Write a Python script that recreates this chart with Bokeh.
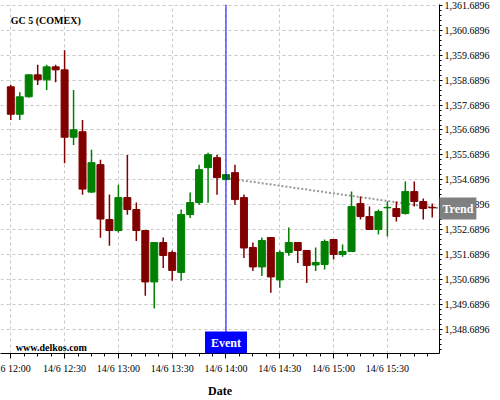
from bokeh.plotting import figure
from bokeh.models import ColumnDataSource, FixedTicker, NumeralTickFormatter, Span, Label, Range1d
from bokeh.embed import file_html
from bokeh.resources import INLINE

# ---- data (5-minute candles, 14/6) ----
times = ["12:00", "12:05", "12:10", "12:15", "12:20", "12:25", "12:30", "12:35", "12:40", "12:45",
         "12:50", "12:55", "13:00", "13:05", "13:10", "13:15", "13:20", "13:25", "13:30", "13:35",
         "13:40", "13:45", "13:50", "13:55", "14:00", "14:05", "14:10", "14:15", "14:20", "14:25",
         "14:30", "14:35", "14:40", "14:45", "14:50", "14:55", "15:00", "15:05", "15:10", "15:15",
         "15:20", "15:25", "15:30", "15:35", "15:40", "15:45", "15:50", "15:55"]
opens = [1358.42, 1357.32, 1358.02, 1358.90, 1358.70, 1359.22, 1359.10, 1356.40, 1356.62, 1354.20,
         1355.30, 1353.10, 1352.66, 1353.98, 1353.50, 1352.66, 1350.60, 1352.18, 1351.78, 1350.98,
         1353.30, 1353.78, 1355.18, 1355.58, 1354.70, 1354.98, 1353.98, 1351.98, 1351.20, 1352.38,
         1350.68, 1351.78, 1352.18, 1351.86, 1351.28, 1351.30, 1352.30, 1351.70, 1351.82, 1353.74,
         1353.22, 1352.70, 1353.57, 1353.54, 1353.34, 1354.22, 1353.82, 1353.59]
highs = [1358.50, 1358.20, 1358.92, 1359.30, 1359.30, 1359.30, 1359.89, 1358.29, 1357.09, 1355.90,
         1355.50, 1354.10, 1354.49, 1355.69, 1353.78, 1352.66, 1352.18, 1352.38, 1351.86, 1353.50,
         1354.18, 1355.30, 1355.78, 1355.70, 1354.90, 1355.30, 1354.10, 1352.18, 1352.38, 1352.38,
         1351.86, 1352.78, 1352.18, 1351.86, 1351.98, 1352.30, 1352.30, 1352.10, 1354.22, 1354.02,
         1353.62, 1353.50, 1353.82, 1353.82, 1354.62, 1354.62, 1353.94, 1353.74]
lows = [1357.09, 1357.09, 1357.99, 1358.49, 1358.29, 1358.60, 1355.36, 1356.09, 1354.09, 1354.16,
        1352.37, 1352.05, 1352.58, 1353.29, 1352.24, 1350.04, 1349.53, 1351.16, 1350.65, 1350.65,
        1353.16, 1353.69, 1353.77, 1354.09, 1354.70, 1353.69, 1351.56, 1351.04, 1350.84, 1350.17,
        1350.37, 1351.65, 1351.36, 1350.56, 1351.04, 1351.10, 1351.50, 1351.61, 1351.80, 1353.10,
        1352.70, 1352.50, 1352.42, 1353.02, 1353.30, 1353.62, 1353.10, 1353.18]
closes = [1357.32, 1358.02, 1358.90, 1358.70, 1359.22, 1359.10, 1356.40, 1356.70, 1354.32, 1355.38,
          1353.12, 1352.66, 1353.98, 1353.50, 1352.66, 1350.60, 1352.18, 1351.66, 1351.06, 1353.30,
          1353.78, 1355.10, 1355.70, 1354.78, 1354.90, 1353.90, 1351.96, 1351.20, 1352.26, 1350.80,
          1351.78, 1352.18, 1351.86, 1351.26, 1351.38, 1352.22, 1351.70, 1351.82, 1353.62, 1353.22,
          1352.70, 1353.42, 1353.59, 1353.22, 1354.22, 1353.82, 1353.54, 1353.57]

trend_times = ["14:00", "16:00"]
trend_values = [1354.76, 1353.54]
event_time = "14:00"

x_tick_times = ["12:00", "12:30", "13:00", "13:30", "14:00", "14:30", "15:00", "15:30"]
# the first label is cut by the left edge in the original picture
x_tick_labels = ["6 12:00", "14/6 12:30", "14/6 13:00", "14/6 13:30",
                 "14/6 14:00", "14/6 14:30", "14/6 15:00", "14/6 15:30"]
y_ticks = [1348.6896, 1349.6896, 1350.6896, 1351.6896, 1352.6896, 1353.6896, 1354.6896,
           1355.6896, 1356.6896, 1357.6896, 1358.6896, 1359.6896, 1360.6896, 1361.6896]

title_text = "GC 5 (COMEX)"
source_text = "www.delkos.com"

RED = "#800000"
GREEN = "#008000"
FONT = "Liberation Serif"


def to_min(t):
    h, m = t.split(":")
    return (int(h) - 12) * 60 + int(m)


xs = [to_min(t) for t in times]
up = [c >= o for o, c in zip(opens, closes)]
src = ColumnDataSource(dict(
    x=xs,
    high=highs,
    low=lows,
    top=[max(o, c) for o, c in zip(opens, closes)],
    bottom=[min(o, c) for o, c in zip(opens, closes)],
    color=[GREEN if u else RED for u in up],
))

x_start, x_end = -5.74, 239.05
y_start, y_end = 1347.73, 1361.72
FRAME_W = 439
SIDE_W = 90      # price axis + the side panel taken by the trend tag

p = figure(width=FRAME_W + SIDE_W, height=400,
           x_range=Range1d(x_start, x_end), y_range=Range1d(y_start, y_end),
           y_axis_location="right", toolbar_location=None, output_backend="svg",
           min_border_left=0, min_border_top=4, min_border_right=SIDE_W,
           min_border_bottom=46,
           outline_line_color=None, background_fill_color="white", border_fill_color="white")

# trend line (behind candles)
p.line([to_min(t) for t in trend_times], trend_values, line_color="#999999",
       line_width=2, line_dash="2 2")

# event line
ev = to_min(event_time)
p.add_layout(Span(location=ev, dimension="height", line_color="#0000ff", line_width=1))

p.segment("x", "high", "x", "low", source=src, line_color="color", line_width=1.5)
p.vbar(x="x", width=3.9, top="top", bottom="bottom", source=src,
       fill_color="color", line_color="color", line_width=1)

# axes
xt = [to_min(t) for t in x_tick_times]
minor_x = [xt[0] + 7.5 * i for i in range(-1, 33)]
p.xaxis.ticker = FixedTicker(ticks=xt, minor_ticks=minor_x)
p.xaxis.major_label_overrides = {v: s for v, s in zip(xt, x_tick_labels)}
p.xaxis.axis_label = "Date"
p.xaxis.axis_label_text_font = FONT
p.xaxis.axis_label_text_font_style = "bold"
p.xaxis.axis_label_text_font_size = "12px"
p.xaxis.axis_label_text_color = "black"
p.xaxis.axis_label_standoff = 7
p.xaxis.major_label_text_font = FONT
p.xaxis.major_label_text_font_size = "10px"
p.xaxis.major_label_text_color = "black"
p.xaxis.major_label_standoff = 4
p.xaxis.major_tick_in = 0
p.xaxis.major_tick_out = 5
p.xaxis.minor_tick_in = 0
p.xaxis.minor_tick_out = 3
p.xaxis.axis_line_color = "black"

minor_y = [y_ticks[0] + 0.2 * i for i in range(-5, 70)]
p.yaxis.ticker = FixedTicker(ticks=y_ticks, minor_ticks=minor_y)
p.yaxis.formatter = NumeralTickFormatter(format="0,0.0000")
p.yaxis.major_label_text_font = FONT
p.yaxis.major_label_text_font_size = "10px"
p.yaxis.major_label_text_color = "black"
p.yaxis.major_label_standoff = 2
p.yaxis.major_tick_in = 0
p.yaxis.major_tick_out = 3
p.yaxis.minor_tick_in = 0
p.yaxis.minor_tick_out = 2
p.yaxis.axis_line_color = "black"

for g in (p.xgrid, p.ygrid):
    g.grid_line_color = "#c8c8c8"
    g.grid_line_dash = "3 3"
    g.grid_line_width = 1

# texts
p.add_layout(Label(x=xs[0], y=y_end, y_offset=-16, text=title_text, text_font=FONT,
                   text_font_style="bold", text_font_size="10px", text_align="left",
                   text_baseline="middle", text_color="black"))
p.add_layout(Label(x=xs[0], y=y_start, x_offset=5, y_offset=1, text=source_text,
                   text_font=FONT, text_font_style="bold", text_font_size="10px",
                   text_align="left", text_baseline="bottom", text_color="black"))
p.add_layout(Label(x=ev, y=y_start, y_offset=0, text="Event", text_font=FONT,
                   text_font_style="bold", text_font_size="12px", text_align="center",
                   text_baseline="bottom", text_color="white",
                   background_fill_color="#0000ff", padding=(6, 4)))
# the trend tag sits over the price axis, so it lives in a side panel (not clipped)
p.add_layout(Label(x=x_end, y=trend_values[-1], text="Trend",
                   text_font=FONT, text_font_style="bold", text_font_size="12px",
                   text_align="left", text_baseline="middle", text_color="white",
                   background_fill_color="#808080", padding=(3, 4)), "right")

open("out.html", "w").write(file_html(p, INLINE))
